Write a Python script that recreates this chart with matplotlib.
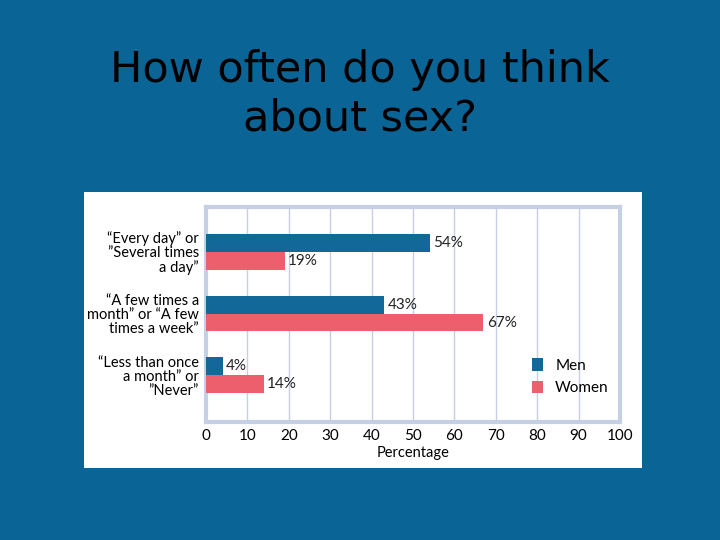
import matplotlib.pyplot as plt
import numpy as np

categories = ['\u201cEvery day\u201d or\n\u201dSeveral times\na day\u201d',
              '\u201cA few times a\nmonth\u201d or \u201cA few\ntimes a week\u201d',
              '\u201cLess than once\na month\u201d or\n\u201dNever\u201d']
men = [54, 43, 4]
women = [19, 67, 14]
series = ['Men', 'Women']
x_ticks = [0, 10, 20, 30, 40, 50, 60, 70, 80, 90, 100]

bg = '#0a6496'
men_color = '#13689a'
women_color = '#ee5f6e'
frame_color = '#c5d0e4'

fig = plt.figure(figsize=(7.2, 5.4), dpi=100)
fig.patch.set_facecolor(bg)

fig.text(0.5, 1 - 94 / 540, 'How often do you think\nabout sex?', ha='center', va='center',
         fontsize=31, color='black', linespacing=1.2, family='DejaVu Sans')

# white panel
panel = fig.add_axes([84 / 720, 1 - 468 / 540, 558 / 720, 276 / 540])
panel.set_facecolor('white')
panel.set_xticks([])
panel.set_yticks([])
for s in panel.spines.values():
    s.set_visible(False)

ax = fig.add_axes([206 / 720, 1 - 422 / 540, 414 / 720, 215 / 540])
ax.set_facecolor('white')
y = np.arange(len(categories))
h = 0.29
ax.barh(y - h / 2, men, height=h, color=men_color, label=series[0], zorder=3)
ax.barh(y + h / 2, women, height=h, color=women_color, label=series[1], zorder=3)
for i in range(len(categories)):
    ax.text(men[i] + 0.8, y[i] - h / 2, f'{men[i]}%', va='center', fontsize=11,
            family='Lato', color='#222222')
    ax.text(women[i] + 0.8, y[i] + h / 2, f'{women[i]}%', va='center', fontsize=11,
            family='Lato', color='#222222')

ax.set_xlim(0, 100)
ax.set_ylim(2.76, -0.73)
ax.set_xticks(x_ticks)
ax.set_xticklabels([str(t) for t in x_ticks], family='Lato', fontsize=11)
ax.set_yticks(y)
ax.set_yticklabels(categories, family='Lato', fontsize=10.5, ha='right', linespacing=1.0)
ax.tick_params(length=0, pad=5)
ax.xaxis.grid(True, color=frame_color, linewidth=1, zorder=0)
for s in ax.spines.values():
    s.set_color(frame_color)
    s.set_linewidth(3)
ax.set_xlabel('Percentage', family='Lato', fontsize=10.5, labelpad=2)

ax.legend(loc='center left', bbox_to_anchor=(0.755, 0.21), frameon=False,
          prop={'family': 'Lato', 'size': 11}, handlelength=0.7, handleheight=0.9,
          handletextpad=0.8, labelspacing=0.5)

fig.savefig('out.png', dpi=100, facecolor=bg)
